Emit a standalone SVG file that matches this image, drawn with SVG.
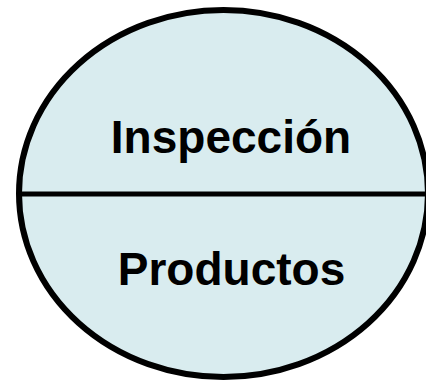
<svg xmlns="http://www.w3.org/2000/svg" width="426" height="381" viewBox="0 0 426 381">
<style>
.t{font-family:"Liberation Sans",Arial,sans-serif;font-weight:bold;font-size:46px;fill:#000;text-anchor:middle}
</style>
<rect width="426" height="381" fill="#fff"/>
<g id="node">
<ellipse cx="223.5" cy="193.5" rx="204.5" ry="183.5" fill="#d9ecef" stroke="#000" stroke-width="6"/>
<line x1="19" y1="194" x2="426" y2="194" stroke="#000" stroke-width="5"/>
<text class="t" x="231" y="153">Inspección</text>
<text class="t" x="231.5" y="285">Productos</text>
</g>
</svg>
